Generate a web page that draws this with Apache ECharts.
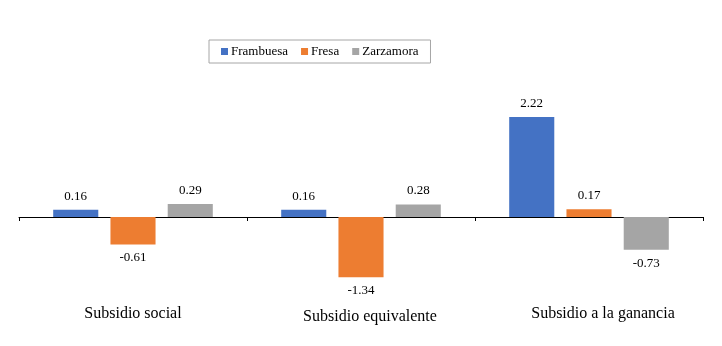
<!DOCTYPE html>
<html>
<head>
<meta charset="utf-8">
<script src="https://cdn.jsdelivr.net/npm/echarts@6/dist/echarts.min.js"></script>
<style>
  html, body { margin: 0; padding: 0; background: #fff; }
  #chart { width: 722px; height: 346px; }
</style>
</head>
<body>
<div id="chart"></div>
<script>
// ===== data =====
const categories = ['Subsidio social', 'Subsidio equivalente', 'Subsidio a la ganancia']
const frambuesa = [0.16, 0.16, 2.22]
const fresa = [-0.61, -1.34, 0.17]
const zarzamora = [0.29, 0.28, -0.73]

const FONT = '"Liberation Serif", "Times New Roman", serif'

// positive values label above, negative below
function withLabels(values) {
  return values.map(v => ({
    value: v,
    label: { position: v < 0 ? 'bottom' : 'top' },
  }))
}

function barSeries(name, values, color) {
  return {
    name,
    type: 'bar',
    xAxisIndex: 0,
    data: withLabels(values),
    barGap: '27%',
    barCategoryGap: '30%',
    itemStyle: { color },
    label: {
      show: true,
      distance: 7,
      color: '#000',
      fontFamily: FONT,
      fontSize: 13,
      formatter: p => p.value.toFixed(2),
    },
  }
}

// category labels sit slightly off-centre in the original
const labelStyles = ['a', 'b', 'c']

const chart = echarts.init(document.getElementById('chart'))
chart.setOption({
  animation: false,
  textStyle: { fontFamily: FONT },
  legend: {
    top: 40,
    left: 209,
    width: 223,
    padding: [5, 12, 5, 12],
    borderColor: '#a6a6a6',
    borderWidth: 1,
    itemWidth: 7,
    itemHeight: 7,
    itemGap: 13,
    icon: 'rect',
    textStyle: { fontFamily: FONT, fontSize: 13, color: '#000', padding: [0, 0, 0, -2] },
  },
  grid: { left: 19, right: 19, top: 82, height: 216, outerBoundsMode: 'none', containLabel: false },
  xAxis: [
    {
      // axis line + ticks at zero
      type: 'category',
      data: categories,
      axisLine: { onZero: true, lineStyle: { color: '#000', width: 1 } },
      axisTick: { show: true, length: 4, lineStyle: { color: '#000' } },
      axisLabel: { show: false },
    },
    {
      // category names at the bottom
      type: 'category',
      data: categories,
      position: 'bottom',
      axisLine: { show: false, onZero: false },
      axisTick: { show: false },
      axisLabel: {
        margin: 8,
        color: '#000',
        fontFamily: FONT,
        fontSize: 16,
        formatter: (v, i) => `{${labelStyles[i]}|${v}}`,
        rich: {
          a: { fontFamily: FONT, fontSize: 16, color: '#000' },
          b: { fontFamily: FONT, fontSize: 16, color: '#000', padding: [3, 0, 0, 18] },
          c: { fontFamily: FONT, fontSize: 16, color: '#000', padding: [0, 0, 0, 28] },
        },
      },
    },
  ],
  yAxis: {
    type: 'value',
    min: -1.8,
    max: 3,
    show: false,
    splitLine: { show: false },
  },
  series: [
    barSeries('Frambuesa', frambuesa, '#4472C4'),
    barSeries('Fresa', fresa, '#ED7D31'),
    barSeries('Zarzamora', zarzamora, '#A5A5A5'),
  ],
})
</script>
</body>
</html>
